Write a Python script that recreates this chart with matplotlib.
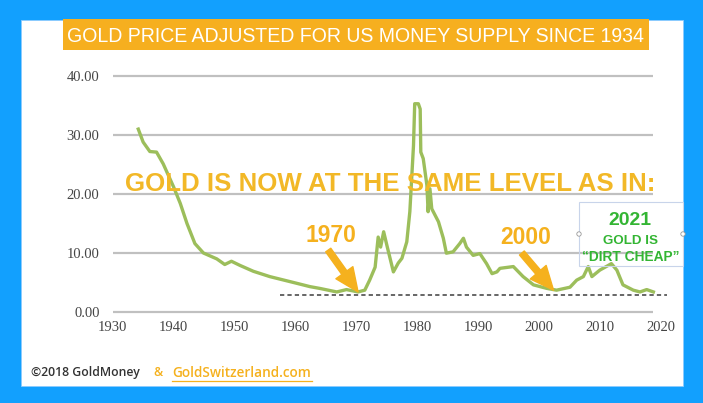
import matplotlib
matplotlib.use("Agg")
import matplotlib.pyplot as plt
from matplotlib.patches import Rectangle, Circle
from matplotlib.transforms import Affine2D

# gold price / money supply
years = [1934.2, 1935.0, 1936.1, 1937.2, 1938.3, 1940.0, 1941.1, 1942.2, 1943.5, 1944.9,
         1947.1, 1948.4, 1949.5, 1950.9, 1953.1, 1955.8, 1959.7, 1962.4, 1964.0, 1966.8,
         1968.4, 1970.3, 1971.4, 1972.2, 1973.1, 1973.6, 1974.0, 1974.5, 1975.1, 1976.1,
         1976.9, 1977.5, 1978.3, 1978.8, 1979.4, 1979.6, 1980.2, 1980.5, 1980.6, 1981.0,
         1981.6, 1981.8, 1982.1, 1982.4, 1983.5, 1984.3, 1984.8, 1985.9, 1987.0, 1987.6,
         1988.1, 1989.2, 1990.3, 1991.4, 1992.3, 1993.1, 1993.6, 1995.8, 1997.4, 1999.1,
         2001.3, 2002.9, 2005.1, 2006.2, 2007.3, 2008.1, 2008.7, 2010.0, 2011.4, 2011.9,
         2012.8, 2013.8, 2015.5, 2016.6, 2017.7, 2018.8]
values = [31.0, 28.8, 27.2, 27.1, 25.1, 21.2, 18.4, 15.0, 11.6, 10.0,
          9.0, 8.05, 8.6, 7.9, 6.9, 6.0, 5.0, 4.3, 4.0, 3.4,
          3.8, 3.4, 3.7, 5.4, 7.6, 12.7, 11.0, 13.6, 11.0, 6.8,
          8.3, 9.1, 11.9, 17.0, 28.2, 35.3, 35.3, 34.4, 27.1, 26.0,
          21.5, 17.0, 20.9, 17.5, 15.3, 12.5, 9.97, 10.2, 11.6, 12.5,
          11.0, 9.6, 9.9, 8.2, 6.5, 6.8, 7.4, 7.7, 6.0, 4.6,
          4.0, 3.7, 4.2, 5.4, 6.0, 7.7, 6.0, 7.1, 7.9, 8.2,
          7.1, 4.6, 3.7, 3.4, 3.8, 3.4]

xticks = list(range(1930, 2021, 10))
yticks = [0, 10, 20, 30, 40]
floor_level = 2.9
floor_span = (1957.5, 2021.0)
arrow_1970 = ((1965.4, 10.5), (1970.3, 3.4))
arrow_2000 = ((1997.2, 10.0), (2002.4, 3.7))

W, H = 703, 403
ORANGE = "#F5B11E"
GREEN = "#33B533"
LINE = "#9CBE5B"

fig = plt.figure(figsize=(W / 100, H / 100), dpi=100)
fig.patch.set_facecolor("#12A0FE")
px = Affine2D().scale(1 / W, -1 / H).translate(0, 1) + fig.transFigure

fig.patches.append(Rectangle((21, 20), 662, 366, transform=px, facecolor="white",
                             edgecolor="#8CCBFF", lw=0.6, zorder=-10))
fig.patches.append(Rectangle((63, 19), 586, 31, transform=px, facecolor="#F6AF1F", lw=0,
                             zorder=-5))

ax = fig.add_axes([112.7 / W, (H - 312) / H, 548 / W, 236 / H])
ax.set_facecolor("none")
ax.set_xlim(1930, 2020)
ax.set_ylim(0, 40)
for s in ax.spines.values():
    s.set_visible(False)
ax.set_xticks(xticks)
ax.set_yticks(yticks)
ax.set_yticklabels(["%.2f" % v for v in yticks])
ax.tick_params(length=0, labelsize=10.5, labelcolor="#454545")
ax.tick_params(axis="x", pad=6.5)
ax.tick_params(axis="y", pad=9.5)
for lab in ax.get_xticklabels() + ax.get_yticklabels():
    lab.set_fontfamily("Liberation Serif")

ax.hlines(yticks, 1930.1, 2018.8, colors="#C0C0C0", lw=1.6, clip_on=False, zorder=1)
ax.hlines(floor_level, floor_span[0], floor_span[1], colors="#666666",
          linestyles=(0, (2.2, 1.6)), lw=1.4, clip_on=False, zorder=2)
ax.plot(years, values, color=LINE, lw=2.4, clip_on=False, zorder=3)

for tail, head in [arrow_1970, arrow_2000]:
    ax.annotate("", xy=head, xytext=tail, zorder=4,
                arrowprops=dict(arrowstyle="simple,head_width=1.5,head_length=1.7,tail_width=0.45",
                                color=ORANGE, shrinkA=0, shrinkB=0, mutation_scale=10))

renderer = fig.canvas.get_renderer()


def place(s, cx, cy, fs, ha="center", **kw):
    # cy is the vertical middle of the capitals, in pixels from the top
    return fig.text(cx, cy + 0.36 * fs * 100 / 72, s, transform=px, ha=ha, va="baseline",
                    fontsize=fs, **kw)


def fit_text(s, cx, cy, width, ha="center", **kw):
    t = fig.text(0, 0, s, transform=px, fontsize=10, **kw)
    fs = 10 * width / t.get_window_extent(renderer).width
    t.remove()
    place(s, cx, cy, fs, ha=ha, **kw)
    return fs


fit_text("GOLD PRICE ADJUSTED FOR US MONEY SUPPLY SINCE 1934", 355.5, 35, 578,
         color="white", family="Liberation Sans")
fit_text("GOLD IS NOW AT THE SAME LEVEL AS IN:", 390, 182, 530,
         color="#F2B827", family="Liberation Sans", weight="bold")
place("1970", 331, 234, 16.5, color=ORANGE, family="Liberation Sans", weight="bold")
place("2000", 526, 236, 16.5, color=ORANGE, family="Liberation Sans", weight="bold")

fig.patches.append(Rectangle((579, 202), 104, 64, transform=px, facecolor="none",
                             edgecolor="#C8D4EA", lw=0.8, zorder=5))
for hx in (579, 683):
    fig.patches.append(Circle((hx, 234), 2.2, transform=px, facecolor="white",
                              edgecolor="#9A9A9A", lw=0.6, zorder=6))
fit_text("2021", 630, 218, 43, color=GREEN, family="Liberation Sans", weight="bold", zorder=7)
fit_text("GOLD IS", 630.5, 239.5, 55, color=GREEN, family="Liberation Sans", weight="bold", zorder=7)
fit_text("\u201cDIRT CHEAP\u201d", 630.3, 256, 97, color=GREEN, family="Liberation Sans",
         weight="bold", zorder=7)

fs_foot = fit_text("\u00a92018 GoldMoney", 31, 372, 109, ha="left", color="#333333",
                   family="Open Sans", weight="semibold")
place("&", 158, 372, fs_foot, color=ORANGE, family="Open Sans", weight="semibold")
fit_text("GoldSwitzerland.com", 172, 372, 140, ha="left", color=ORANGE,
         family="Open Sans", weight="semibold")
fig.lines.append(plt.Line2D([172, 312], [381, 381], transform=px, color=ORANGE, lw=0.9))

fig.savefig("out.png", dpi=100, facecolor=fig.get_facecolor())
